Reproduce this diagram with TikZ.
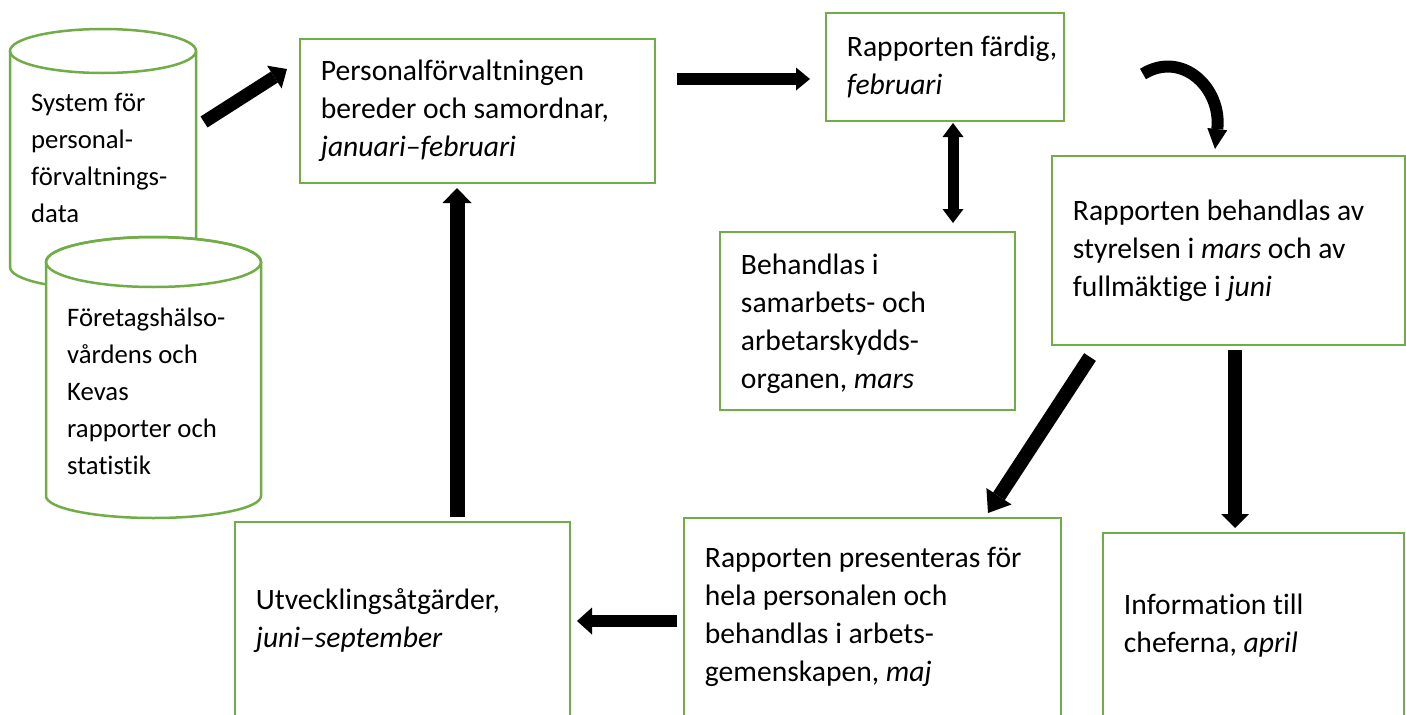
\documentclass[tikz,border=0pt]{standalone}
\usepackage{fontspec}
\setmainfont{Carlito}[Ligatures=NoCommon]
\usetikzlibrary{arrows.meta}
\definecolor{boxgreen}{HTML}{70AD47}
\tikzset{
  box/.style={draw=boxgreen, line width=2.5pt, fill=white, rectangle, inner sep=0pt},
  cylline/.style={draw=boxgreen, line width=2.5pt},
  txt/.style={anchor=west, align=left, inner sep=0pt, font=\fontsize{29.6}{38}\selectfont},
  ctxt/.style={anchor=west, align=left, inner sep=0pt, font=\fontsize{26.7}{37}\selectfont},
  blk/.style={line width=#1, black},
}
\begin{document}
\begin{tikzpicture}[x=1pt, y=-1pt]
\clip (0,0) rectangle (1406,715);
\fill[white] (0,0) rectangle (1406,715);
% cylinder 1
\draw[cylline, fill=white] (10,51) -- (10,267) arc (180:360:93pt and 22pt) -- (196,51);
\draw[cylline] (103,51) ellipse [x radius=93pt, y radius=22pt];
\node[ctxt] (cyl1) at (31,158) {System för\\personal-\\förvaltnings-\\data};
% cylinder 2
\draw[cylline, fill=white] (46,262) -- (46,496) arc (180:360:107.5pt and 22pt) -- (261,262) arc (0:180:107.5pt and 25pt);
\draw[cylline] (153.5,262) ellipse [x radius=107.5pt, y radius=25pt];
\node[ctxt] (cyl2) at (67,391) {Företagshälso-\\vårdens och\\Kevas\\rapporter och\\statistik};
% boxes
\node[box, minimum width=355pt, minimum height=144pt] (b1) at (477.5,111) {};
\node[box, minimum width=238pt, minimum height=108pt] (b2) at (945,67) {};
\node[box, minimum width=353pt, minimum height=189pt] (b3) at (1228.5,250.5) {};
\node[box, minimum width=295pt, minimum height=178pt] (b4) at (867.5,321) {};
\node[box, minimum width=335pt, minimum height=198pt] (b5) at (402.5,621) {};
\node[box, minimum width=377pt, minimum height=198pt] (b6) at (872.5,617) {};
\node[box, minimum width=301pt, minimum height=186pt] (b7) at (1253.5,626) {};
% texts
\node[txt] (t1) at ([xshift=22pt]b1.west) {Personalförvaltningen\\bereder och samordnar,\\\textit{januari--februari}};
\node[txt] (t2) at ([xshift=22pt]b2.west) {Rapporten färdig,\\\textit{februari}};
\node[txt] (t3) at ([xshift=22pt]b3.west) {Rapporten behandlas av\\styrelsen i \textit{mars} och av\\fullmäktige i \textit{juni}};
\node[txt] (t4) at ([xshift=22pt,yshift=-3pt]b4.west) {Behandlas i\\samarbets- och\\arbetarskydds-\\organen, \textit{mars}};
\node[txt] (t5) at ([xshift=22pt]b5.west) {Utvecklingsåtgärder,\\\textit{juni--september}};
\node[txt] (t6) at ([xshift=22pt]b6.west) {Rapporten presenteras för\\hela personalen och\\behandlas i arbets-\\gemenskapen, \textit{maj}};
\node[txt] (t7) at ([xshift=22pt]b7.west) {Information till\\cheferna, \textit{april}};
% arrow endpoints
\coordinate (a1s) at (204,122); \coordinate (a1e) at (287,69);
\coordinate (a2s) at (677,79);  \coordinate (a2e) at (810,79);
\coordinate (a3s) at (953,123); \coordinate (a3e) at (953,223);
\coordinate (a4s) at (1143,74); \coordinate (a4e) at (1215,149);
\coordinate (a5s) at (1090,357); \coordinate (a5e) at (988,513);
\coordinate (a6s) at (1235,350); \coordinate (a6e) at (1235,528);
\coordinate (a7s) at (457,517); \coordinate (a7e) at (457,188);
\coordinate (a8s) at (677,621); \coordinate (a8e) at (577,621);
% arrows
\draw[blk=13pt, -{Triangle[length=15pt,width=27pt,line width=0pt]}] (a1s) -- (a1e);
\draw[blk=12pt, -{Triangle[length=14pt,width=23pt,line width=0pt]}] (a2s) -- (a2e);
\draw[blk=11pt, {Triangle[length=14pt,width=21pt,line width=0pt]}-{Triangle[length=14pt,width=21pt,line width=0pt]}] (a3s) -- (a3e);
\draw[blk=12pt, -{Triangle[length=20pt,width=20pt,line width=0pt]}] (a4s) .. controls (1182,50) and (1222,88) .. (a4e);
\draw[blk=14pt, -{Triangle[length=20pt,width=30pt,line width=0pt]}] (a5s) -- (a5e);
\draw[blk=14pt, -{Triangle[length=14pt,width=28pt,line width=0pt]}] (a6s) -- (a6e);
\draw[blk=15pt, -{Triangle[length=15pt,width=29pt,line width=0pt]}] (a7s) -- (a7e);
\draw[blk=12pt, -{Triangle[length=15pt,width=27pt,line width=0pt]}] (a8s) -- (a8e);
\end{tikzpicture}
\end{document}
